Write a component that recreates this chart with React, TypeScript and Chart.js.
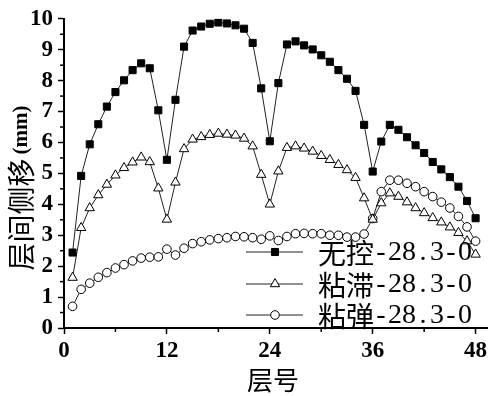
import React, { useEffect, useRef } from 'react';
import { Chart, registerables } from 'chart.js';

Chart.register(...registerables);

const floors = [
  1, 2, 3, 4, 5, 6, 7, 8, 9, 10, 11, 12, 13, 14, 15, 16, 17, 18, 19, 20, 21, 22, 23, 24,
  25, 26, 27, 28, 29, 30, 31, 32, 33, 34, 35, 36, 37, 38, 39, 40, 41, 42, 43, 44, 45, 46, 47, 48,
];

const uncontrolled = [
  2.44, 4.92, 5.94, 6.59, 7.16, 7.63, 8.01, 8.34, 8.56, 8.40, 7.04, 5.44,
  7.38, 9.10, 9.62, 9.75, 9.84, 9.88, 9.85, 9.79, 9.68, 9.22, 7.75, 6.04,
  7.92, 9.17, 9.27, 9.14, 9.01, 8.82, 8.61, 8.34, 8.06, 7.67, 6.57, 5.06,
  6.03, 6.57, 6.41, 6.17, 5.91, 5.66, 5.37, 5.13, 4.88, 4.57, 4.11, 3.55,
];

const viscous = [
  1.63, 3.24, 3.88, 4.30, 4.64, 4.94, 5.18, 5.36, 5.52, 5.37, 4.52, 3.51,
  4.71, 5.79, 6.10, 6.18, 6.25, 6.29, 6.26, 6.23, 6.13, 5.88, 4.96, 4.00,
  5.07, 5.83, 5.88, 5.81, 5.71, 5.57, 5.44, 5.28, 5.11, 4.86, 4.20, 3.51,
  4.04, 4.36, 4.25, 4.07, 3.88, 3.72, 3.56, 3.42, 3.26, 3.08, 2.81, 2.38,
];

const viscoelastic = [
  0.70, 1.25, 1.45, 1.64, 1.79, 1.94, 2.05, 2.17, 2.26, 2.29, 2.30, 2.55,
  2.36, 2.58, 2.73, 2.79, 2.85, 2.89, 2.92, 2.96, 2.95, 2.92, 2.87, 2.98,
  2.83, 2.96, 3.05, 3.06, 3.05, 3.05, 3.00, 3.00, 2.94, 2.94, 3.04, 3.54,
  4.41, 4.78, 4.78, 4.68, 4.57, 4.41, 4.25, 4.07, 3.88, 3.61, 3.27, 2.81,
];

const seriesNames = ['无控-28.3-0', '粘滞-28.3-0', '粘弹-28.3-0'];
const xTicks = [0, 12, 24, 36, 48];
const xMinorTicks = [6, 18, 30, 42];
const yTicks = [0, 1, 2, 3, 4, 5, 6, 7, 8, 9, 10];
const yMinorTicks = [0.5, 1.5, 2.5, 3.5, 4.5, 5.5, 6.5, 7.5, 8.5, 9.5];
const xTitle = '层号';
const yTitle = '层间侧移';
const yUnit = '(mm)';

const SERIF = "'Liberation Serif', 'Times New Roman', Times, 'DejaVu Serif', serif";
const CJK = "'Noto Sans CJK SC', sans-serif";

const styles = [
  { pointStyle: 'rect', radius: 5, fill: '#000' },
  { pointStyle: 'triangle', radius: 5.4, fill: '#fff' },
  { pointStyle: 'circle', radius: 4.3, fill: '#fff' },
];

function drawMarker(ctx: CanvasRenderingContext2D, style: string, r: number, x: number, y: number, fill: string) {
  ctx.beginPath();
  if (style === 'rect') {
    const s = Math.SQRT1_2 * r;
    ctx.rect(x - s, y - s, 2 * s, 2 * s);
  } else if (style === 'triangle') {
    ctx.moveTo(x, y - r);
    ctx.lineTo(x + 0.866 * r, y + 0.5 * r);
    ctx.lineTo(x - 0.866 * r, y + 0.5 * r);
    ctx.closePath();
  } else {
    ctx.arc(x, y, r, 0, Math.PI * 2);
  }
  ctx.fillStyle = fill;
  ctx.fill();
  ctx.strokeStyle = '#000';
  ctx.lineWidth = 1;
  ctx.stroke();
}

const decor = {
  id: 'decor',
  afterDraw(chart: any) {
    const ctx: CanvasRenderingContext2D = chart.ctx;
    const xs = chart.scales.x;
    const ys = chart.scales.y;
    const ca = chart.chartArea;
    ctx.save();
    ctx.strokeStyle = '#000';
    ctx.lineWidth = 1.5;
    for (const v of xMinorTicks) {
      const px = xs.getPixelForValue(v);
      ctx.beginPath();
      ctx.moveTo(px, ca.bottom);
      ctx.lineTo(px, ca.bottom + 4);
      ctx.stroke();
    }
    for (const v of yMinorTicks) {
      const py = ys.getPixelForValue(v);
      ctx.beginPath();
      ctx.moveTo(ca.left, py);
      ctx.lineTo(ca.left - 4, py);
      ctx.stroke();
    }
    ctx.fillStyle = '#000';
    ctx.font = `26px ${CJK}`;
    ctx.textAlign = 'center';
    ctx.textBaseline = 'middle';
    ctx.fillText(xTitle, 273, 380);
    ctx.save();
    ctx.translate(21, 188);
    ctx.rotate(-Math.PI / 2);
    ctx.font = `28px ${CJK}`;
    const w1 = ctx.measureText(yTitle).width;
    ctx.font = `bold 21px ${SERIF}`;
    const w2 = ctx.measureText(yUnit).width;
    const total = w1 + 4 + w2;
    ctx.textAlign = 'left';
    ctx.font = `28px ${CJK}`;
    ctx.fillText(yTitle, -total / 2, 0);
    ctx.font = `bold 21px ${SERIF}`;
    ctx.fillText(yUnit, -total / 2 + w1 + 4, 1);
    ctx.restore();
    const rows = [252, 284, 315];
    const em = 28;
    seriesNames.forEach((name, i) => {
      const y = rows[i];
      ctx.strokeStyle = '#222';
      ctx.lineWidth = 1;
      ctx.beginPath();
      ctx.moveTo(246, y);
      ctx.lineTo(303, y);
      ctx.stroke();
      drawMarker(ctx, styles[i].pointStyle, styles[i].radius, 275, y, styles[i].fill);
      let cx = 318;
      ctx.fillStyle = '#000';
      ctx.textAlign = 'center';
      ctx.textBaseline = 'middle';
      for (const ch of name) {
        const wide = ch.charCodeAt(0) > 0x2e80;
        const cw = wide ? em : em / 2;
        ctx.font = wide ? `${em}px ${CJK}` : `${em}px ${SERIF}`;
        ctx.fillText(ch, cx + cw / 2, y + 1);
        cx += cw;
      }
    });
    ctx.restore();
  },
};

export default function App() {
  const ref = useRef<HTMLCanvasElement>(null);
  useEffect(() => {
    document.body.style.margin = '0';
    const canvas = ref.current!;
    const mk = (vals: number[]) => floors.map((f, i) => ({ x: f, y: vals[i] }));
    const allVals = [uncontrolled, viscous, viscoelastic];
    const chart = new Chart(canvas, {
      type: 'line',
      data: {
        datasets: allVals.map((vals, i) => ({
          label: seriesNames[i],
          data: mk(vals),
          borderColor: '#222',
          borderWidth: 1,
          pointStyle: styles[i].pointStyle as any,
          pointRadius: styles[i].radius,
          pointBackgroundColor: styles[i].fill,
          pointBorderColor: '#000',
          pointBorderWidth: 1,
          tension: 0,
          fill: false,
        })),
      },
      options: {
        animation: false,
        responsive: false,
        devicePixelRatio: 1,
        layout: { padding: { top: 15, right: 0, left: 0, bottom: 0 } },
        plugins: { legend: { display: false }, tooltip: { enabled: false } },
        scales: {
          x: {
            type: 'linear',
            min: 0,
            max: 49.4,
            afterFit: (s: any) => { s.height = 68; },
            afterBuildTicks: (s: any) => { s.ticks = xTicks.map((v) => ({ value: v })); },
            border: { display: true, color: '#000', width: 2 },
            grid: { drawOnChartArea: false, drawTicks: true, tickLength: 6, tickColor: '#000', tickWidth: 1.5 },
            ticks: {
              color: '#000',
              font: { family: SERIF, size: 23, weight: 'bold' },
              padding: 3,
              maxRotation: 0,
              autoSkip: false,
            },
          },
          y: {
            type: 'linear',
            min: 0,
            max: 10,
            afterFit: (s: any) => { s.width = 64; },
            afterBuildTicks: (s: any) => { s.ticks = yTicks.map((v) => ({ value: v })); },
            border: { display: true, color: '#000', width: 2 },
            grid: { drawOnChartArea: false, drawTicks: true, tickLength: 6, tickColor: '#000', tickWidth: 1.5 },
            ticks: {
              color: '#000',
              font: { family: SERIF, size: 23, weight: 'bold' },
              padding: 5,
              autoSkip: false,
            },
          },
        },
      },
      plugins: [decor],
    });
    return () => chart.destroy();
  }, []);
  return <canvas ref={ref} width={494} height={396} style={{ display: 'block' }} />;
}
